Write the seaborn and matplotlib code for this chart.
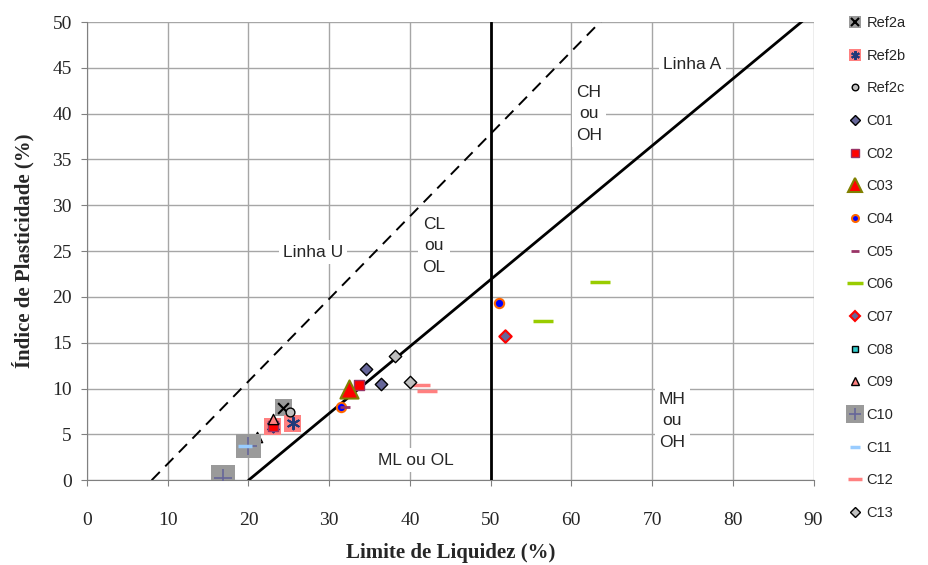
import matplotlib
matplotlib.use("Agg")
import matplotlib.pyplot as plt
import seaborn as sns
from matplotlib.lines import Line2D
from matplotlib.legend_handler import HandlerTuple

# data (LL, IP)
ref2a_ll, ref2a_ip = [24.3], [7.9]
ref2b_ll, ref2b_ip = [23.0, 25.5], [5.9, 6.2]
ref2c_ll, ref2c_ip = [25.1], [7.4]
c01_ll, c01_ip = [34.5, 36.4], [12.1, 10.5]
c02_ll, c02_ip = [23.0, 33.7], [5.9, 10.4]
c03_ll, c03_ip = [32.4], [10.0]
c04_ll, c04_ip = [31.4, 51.0], [8.0, 19.3]
c05_ll, c05_ip = [32.0], [8.0]
c06_ll, c06_ip = [56.5, 63.6], [17.4, 21.6]
c07_ll, c07_ip = [51.8], [15.7]
c08_ll, c08_ip = [], []
c09_ll, c09_ip = [23.0, 21.0], [6.7, 4.7]
c10_ll, c10_ip = [20.0, 16.8], [3.7, 0.3]
c11_ll, c11_ip = [19.6], [3.7]
c12_ll, c12_ip = [41.2, 42.1], [10.4, 9.7]
c13_ll, c13_ip = [38.2, 40.0], [13.6, 10.7]

line_a_ll = [20, 90]
line_u_ll = [8, 70]
ll_limit = 50

sns.set_style("white")
plt.rcParams["font.family"] = ["Liberation Serif", "DejaVu Sans"]

fig = plt.figure(figsize=(9.29, 5.65), dpi=100)
ax = fig.add_axes([0.0937, 0.150, 0.782, 0.811])

ASTER = (6, 2, 0)

# (label, ll, ip, layers) ; each layer = (marker, size, face, edge, lw)
series = [
    ("Ref2a", ref2a_ll, ref2a_ip, [("s", 150, "#9a9a9a", "none", 0), ("x", 60, "black", "black", 1.5)]),
    ("Ref2b", ref2b_ll, ref2b_ip, [("s", 150, "#ff8080", "none", 0), (ASTER, 70, "#1f3a7a", "#1f3a7a", 1.5)]),
    ("Ref2c", ref2c_ll, ref2c_ip, [("o", 40, "#c0c0c0", "black", 1.0)]),
    ("C01", c01_ll, c01_ip, [("D", 40, "#666699", "black", 1.0)]),
    ("C02", c02_ll, c02_ip, [("s", 55, "#ff0000", "#993366", 1.0)]),
    ("C03", c03_ll, c03_ip, [("^", 170, "#ff0000", "#808000", 1.5)]),
    ("C04", c04_ll, c04_ip, [("o", 45, "#0000ff", "#ff6600", 1.5)]),
    ("C05", c05_ll, c05_ip, [("_", 60, "#993366", "#993366", 2.0)]),
    ("C06", c06_ll, c06_ip, [("_", 220, "#99cc00", "#99cc00", 2.5)]),
    ("C07", c07_ll, c07_ip, [("D", 40, "#666699", "#ff0000", 1.5)]),
    ("C08", c08_ll, c08_ip, [("s", 45, "#33cccc", "black", 1.0)]),
    ("C09", c09_ll, c09_ip, [("^", 55, "#ff8080", "black", 1.0)]),
    ("C10", c10_ll, c10_ip, [("s", 300, "#9a9a9a", "none", 0), ("+", 150, "#666699", "#666699", 1.2)]),
    ("C11", c11_ll, c11_ip, [("_", 110, "#99ccff", "#99ccff", 2.5)]),
    ("C12", c12_ll, c12_ip, [("_", 200, "#ff8080", "#ff8080", 2.5)]),
    ("C13", c13_ll, c13_ip, [("D", 40, "#c0c0c0", "black", 1.0)]),
]

unfilled = ("x", "+", "_", ASTER)

handles, labels = [], []
for k, (label, ll, ip, layers) in enumerate(series):
    parts = []
    for j, (m, s, fc, ec, lw) in enumerate(layers):
        if len(ll):
            if m in unfilled:
                sns.scatterplot(x=ll, y=ip, marker=m, s=s, color=fc, linewidth=lw,
                                ax=ax, zorder=5 + k + j * 0.1, legend=False)
            else:
                sns.scatterplot(x=ll, y=ip, marker=m, s=s, color=fc, edgecolor=ec,
                                linewidth=lw, ax=ax, zorder=5 + k + j * 0.1, legend=False)
        ms = s ** 0.5 * 0.75
        if m in unfilled:
            parts.append(Line2D([], [], ls="none", marker=m, markersize=ms,
                                markeredgecolor=fc, markeredgewidth=lw))
        else:
            parts.append(Line2D([], [], ls="none", marker=m, markersize=ms,
                                markerfacecolor=fc, markeredgecolor=ec,
                                markeredgewidth=lw))
    handles.append(tuple(parts))
    labels.append(label)

# classification lines
sns.lineplot(x=line_a_ll, y=[0.73 * (v - 20) for v in line_a_ll], color="black",
             lw=2, ax=ax, zorder=4)
sns.lineplot(x=line_u_ll, y=[0.9 * (v - 8) for v in line_u_ll], color="black",
             lw=1.4, ls=(0, (6, 4)), ax=ax, zorder=4)
ax.axvline(ll_limit, color="black", lw=2, zorder=4)

box = dict(facecolor="white", edgecolor="none", pad=3)
txt = dict(family=["Liberation Sans", "DejaVu Sans"], fontsize=12.5, zorder=3.5)
ax.text(75, 45.4, "Linha A", ha="center", va="center", bbox=box, **txt)
ax.text(28, 24.9, "Linha U", ha="center", va="center", bbox=box, **txt)
ax.text(62.2, 40, "CH\nou\nOH", ha="center", va="center", linespacing=1.55, bbox=box, **txt)
ax.text(43, 25.6, "CL\nou\nOL", ha="center", va="center", linespacing=1.55, bbox=box, **txt)
ax.text(72.5, 6.5, "MH\nou\nOH", ha="center", va="center", linespacing=1.55, bbox=box, **txt)
ax.text(40.7, 2.2, "ML ou OL", ha="center", va="center", bbox=box, **txt)

ax.set_xlim(0, 90)
ax.set_ylim(0, 50)
ax.set_xticks(range(0, 91, 10))
ax.set_yticks(range(0, 51, 5))
ax.grid(True, color="#a6a6a6", lw=1)
ax.set_axisbelow(True)
for side in ("top", "right"):
    ax.spines[side].set_visible(False)
for side in ("left", "bottom"):
    ax.spines[side].set_color("#808080")
ax.tick_params(axis="both", labelsize=14, length=4, color="#808080", direction="out",
               left=True, bottom=True, pad=7)
ax.tick_params(axis="x", pad=19)
ax.set_xlabel("Limite de Liquidez (%)", fontsize=15, fontweight="bold", labelpad=10)
ax.set_ylabel("Índice de Plasticidade (%)", fontsize=15, fontweight="bold", labelpad=13)

fig.legend(handles, labels, loc="upper left", bbox_to_anchor=(0.898, 0.995),
           frameon=False, handler_map={tuple: HandlerTuple(ndivide=1)},
           prop={"family": "Liberation Sans", "size": 10.5}, labelspacing=1.28,
           handlelength=1.0, handletextpad=0.3)

fig.savefig("out.png", dpi=100)
